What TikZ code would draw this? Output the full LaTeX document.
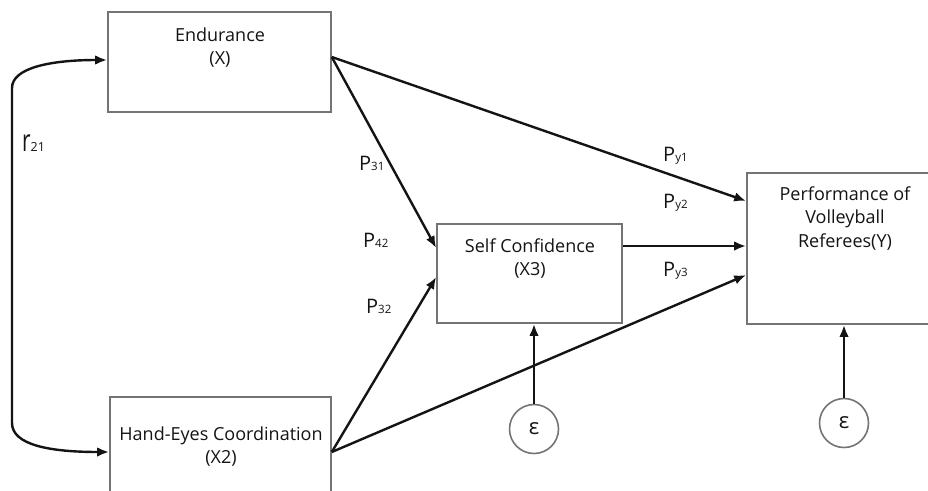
\documentclass[tikz,border=0pt]{standalone}
\usepackage{fontspec}
\usepackage{graphicx}
\setmainfont{Open Sans}
\usetikzlibrary{arrows.meta,calc}
\definecolor{ink}{HTML}{141414}
\definecolor{boxgray}{HTML}{747474}
\newcommand\pathcoef[2]{{\fontsize{20}{20}\selectfont #1}{\fontsize{11.5}{12}\selectfont #2}}
\begin{document}
\begin{tikzpicture}[x=1pt,y=-1pt,
  box/.style={draw=boxgray, line width=1.6pt, rectangle, inner sep=0pt},
  txt/.style={align=center, inner sep=0pt, anchor=north, font=\fontsize{18}{23.5}\selectfont, text=ink},
  conn/.style={line width=2.4pt, draw=ink, -{Latex[length=12pt,width=9.5pt]}},
  dconn/.style={line width=2.4pt, draw=ink, {Latex[length=12pt,width=9.5pt]}-{Latex[length=12pt,width=9.5pt]}},
  errc/.style={circle, draw=boxgray, line width=1.6pt, minimum size=49pt, inner sep=0pt, font=\fontsize{22}{22}\selectfont, text=ink},
  plab/.style={anchor=base west, inner sep=0pt, text=ink}
]
\useasboundingbox (0,0) rectangle (928,490);
\clip (0,0) rectangle (928,490);
\fill[white] (0,0) rectangle (928,490);

% boxes
\node[box, minimum width=223pt, minimum height=100pt] (end) at (219.5,62) {};
\node[box, minimum width=221pt, minimum height=110pt] (hand) at (220.5,452) {};
\node[box, minimum width=185pt, minimum height=99pt] (self) at (529.5,273.5) {};
\node[box, minimum width=196pt, minimum height=151pt] (perf) at (845,248.5) {};

% box texts
\node[txt] (endt) at ($(end.north)+(0.5,16)$) {Endurance\\(X)};
\node[txt] (handt) at ($(hand.north)+(0.5,30.3)$) {Hand-Eyes Coordination\\(X2)};
\node[txt] (selft) at ($(self.north)+(0.5,15.3)$) {Self Confidence\\(X3)};
\node[txt] (perft) at ($(perf.north)+(0,14.3)$) {Performance of\\Volleyball\\Referees(Y)};

% error terms
\node[errc] (e1) at (534,429) {ε};
\node[errc] (e2) at (844,423) {ε};

% correlation
\coordinate (rtop) at (12,88);
\coordinate (rbot) at (12,423);
\draw[dconn] ($(end.west)+(0,-2)$) .. controls (50,60) and (12,68) .. (rtop) -- (rbot) .. controls (12,445) and (50,452) .. (hand.west);

% paths
\draw[conn] ($(end.east)+(0,-5)$) -- ($(perf.west)+(0,-47.5)$);
\draw[conn] ($(end.east)+(0,-5)$) -- ($(self.west)+(0,-25.5)$);
\draw[conn] (hand.east) -- ($(self.west)+(0,3.5)$);
\draw[conn] (hand.east) -- ($(perf.west)+(0,26.5)$);
\draw[conn] ($(self.east)+(0,-27.5)$) -- ($(perf.west)+(0,-2.5)$);
\draw[conn] (e1.north) -- (e1.north |- self.south);
\draw[conn] (e2.north) -- (e2.north |- perf.south);

% labels
\node[plab] (r21) at (22,151) {\scalebox{0.95}[1.4]{\fontsize{22}{22}\selectfont r}{\fontsize{12.5}{13}\selectfont 21}};
\node[plab] (p31) at (359,170) {\pathcoef{P}{31}};
\node[plab] (p42) at (363,247) {\pathcoef{P}{42}};
\node[plab] (p32) at (366,313) {\pathcoef{P}{32}};
\node[plab] (py1) at (663,161) {\pathcoef{P}{y1}};
\node[plab] (py2) at (663,208) {\pathcoef{P}{y2}};
\node[plab] (py3) at (663,276) {\pathcoef{P}{y3}};
\end{tikzpicture}
\end{document}
